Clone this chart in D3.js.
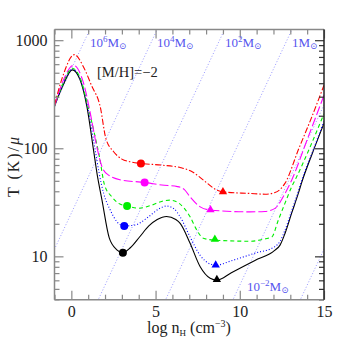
<!DOCTYPE html>
<html>
<head>
<meta charset="utf-8">
<script src="https://cdn.jsdelivr.net/npm/d3@7"></script>
<style>
body { margin: 0; background: #fff; }
svg text { font-family: "Liberation Serif", "DejaVu Serif", serif; }
</style>
</head>
<body>
<svg id="chart" width="354" height="354"></svg>
<script>
// log n_H (cm^-3) and T/mu (K)
var nBlack = [-1, -0.5, 0.05, 0.5, 0.93, 1.32, 1.52, 1.82, 2.25, 2.7, 3.06, 3.5, 4.05, 4.6, 5.1, 5.65, 6.2, 6.46, 7.05, 7.65, 8.24, 8.64, 9.5, 10.9, 12.09, 12.39, 12.68, 13.08, 13.47, 13.67, 14.3, 15];
var tBlack = [245, 380, 531, 437, 240, 95.5, 58.9, 33.1, 14.8, 11.5, 10.8, 12.0, 15.1, 19.1, 21.9, 23.4, 21.9, 20.2, 13.2, 8.0, 6.27, 6.03, 7.06, 9.16, 11.4, 12.7, 16.2, 25.1, 38.0, 47.9, 89.1, 170];

var nBlue = [-1, -0.5, 0.05, 0.5, 1.0, 1.42, 1.65, 1.92, 2.31, 2.71, 3.14, 3.79, 4.58, 5.2, 5.65, 6.1, 6.46, 7.05, 7.65, 8.24, 8.6, 9.5, 10.9, 12.09, 12.39, 12.68, 13.08, 13.47, 13.67, 14.3, 15];
var tBlue = [245, 389, 541, 447, 229, 95.5, 58.9, 38.2, 26.8, 20.9, 19.1, 19.5, 23.2, 27.5, 29.2, 27.5, 23.2, 15.1, 10.2, 8.5, 8.3, 9.1, 10.7, 12.3, 13.8, 17.4, 26.3, 39.8, 50.1, 91.2, 178];

var nGreen = [-1, -0.5, 0.05, 0.5, 1.0, 1.35, 1.67, 1.97, 2.41, 2.81, 3.31, 4.0, 4.78, 5.4, 5.87, 6.4, 7.05, 7.45, 7.84, 8.54, 10.6, 11.5, 11.9, 12.29, 12.68, 13.08, 13.28, 14.2, 15];
var tGreen = [245, 398, 550, 457, 240, 141, 83.2, 45.7, 35.5, 30.9, 29.2, 27.9, 29.8, 32.4, 33.1, 30.9, 23.2, 17.5, 14.7, 14.1, 13.8, 14.5, 15.1, 21.7, 30.9, 44.0, 50.7, 105, 209];

var nMagenta = [-1, -0.5, 0.12, 0.73, 1.13, 1.52, 1.82, 2.21, 3.0, 4.35, 5.37, 6.3, 6.7, 7.05, 7.65, 8.26, 10.6, 11.5, 12.09, 12.68, 13.08, 14.0, 15];
var tMagenta = [245, 417, 586, 398, 209, 102, 67.3, 56.4, 50.7, 48.3, 45.7, 44.2, 41.7, 35.5, 28.7, 26.8, 25.8, 26.0, 27.8, 38.0, 50.7, 120, 309];

var nRed = [-1, -0.5, 0.18, 0.73, 1.2, 1.72, 2.05, 2.5, 3.0, 3.5, 4.13, 5.37, 6.5, 7.2, 7.84, 8.64, 9.0, 10.6, 11.5, 12.09, 12.68, 13.5, 14.2, 15];
var tRed = [251, 468, 736, 562, 380, 240, 123, 93.3, 79.4, 75.0, 72.4, 69.8, 66.1, 60.3, 50.7, 41.0, 39.5, 38.2, 37.6, 38.9, 47.3, 98.9, 182, 383];

// marked points: circles and triangles (black, blue, green, magenta, red)
var dotN = [3.06, 3.14, 3.31, 4.35, 4.13];
var dotT = [10.8, 19.1, 29.2, 48.3, 72.4];
var triN = [8.64, 8.57, 8.52, 8.26, 9.0];
var triT = [6.1, 8.3, 14.4, 27, 39.5];

// constant Jeans mass lines: log n_H where each one crosses T = 1000 K, slope 1/3
var jeansMass = ["1e6", "1e4", "1e2", "1", "1e-2", "1e-4"];
var jeansN1000 = [0.8, 4.8, 8.8, 12.8, 16.8, 20.8];

var xTicks = [0, 5, 10, 15];
var yTicks = [10, 100, 1000];

var colors = ["#000000", "#0000ff", "#00ee00", "#ff00ff", "#ff0000"];
var dashes = [null, "1,2", "4,3", "9,3", "6,2,1.5,2"];
var series = [[nBlack, tBlack], [nBlue, tBlue], [nGreen, tGreen], [nMagenta, tMagenta], [nRed, tRed]];

var svg = d3.select("#chart");
var pL = 54.5, pR = 324, pT = 29.5, pB = 299.7;

var x = d3.scaleLinear().domain([-1, 15]).range([pL, pR]);
var y = d3.scaleLog().domain([3.97, 1256]).range([pB, pT]);

svg.append("clipPath").attr("id", "clip")
    .append("rect").attr("x", pL).attr("y", pT)
    .attr("width", pR - pL).attr("height", pB - pT);

var plot = svg.append("g").attr("clip-path", "url(#clip)");

// Jeans mass lines
jeansN1000.forEach(function (n0) {
    var pts = [[n0 - 12, 1000 * Math.pow(10, -4)], [n0 + 3, 1000 * 10]];
    plot.append("path")
        .attr("d", d3.line().x(function (d) { return x(d[0]); }).y(function (d) { return y(d[1]); })(pts))
        .attr("fill", "none")
        .attr("stroke", "#8c8cff")
        .attr("stroke-width", 0.9)
        .attr("stroke-dasharray", "1,2");
});

var line = d3.line()
    .x(function (d) { return x(d[0]); })
    .y(function (d) { return y(d[1]); })
    .curve(d3.curveMonotoneX);

series.forEach(function (s, i) {
    var pts = s[0].map(function (n, j) { return [n, s[1][j]]; });
    plot.append("path")
        .attr("d", line(pts))
        .attr("fill", "none")
        .attr("stroke", colors[i])
        .attr("stroke-width", 1.1)
        .attr("stroke-dasharray", dashes[i]);
});

dotN.forEach(function (n, i) {
    plot.append("circle")
        .attr("cx", x(n)).attr("cy", y(dotT[i])).attr("r", 4)
        .attr("fill", colors[i]);
});

var tri = d3.symbol().type(d3.symbolTriangle).size(30);
triN.forEach(function (n, i) {
    plot.append("path")
        .attr("d", tri())
        .attr("transform", "translate(" + x(n) + "," + y(triT[i]) + ")")
        .attr("fill", colors[i]);
});

// axes, ticks pointing inward on all four sides
var gray = "#888";
var xMinor = d3.range(-1, 16).filter(function (v) { return xTicks.indexOf(v) < 0; });
var yMinor = [];
[1, 10, 100, 1000].forEach(function (d) {
    for (var k = 1; k < 10; k++) {
        var v = d * k;
        if (v > 3.97 && v < 1256 && yTicks.indexOf(v) < 0) yMinor.push(v);
    }
});

function addAxis(axis, tr, color) {
    var g = svg.append("g").attr("transform", tr).call(axis);
    g.select(".domain").remove();
    g.selectAll("line").attr("stroke", color).attr("stroke-width", 1.2);
    g.selectAll("text").attr("fill", "#222").style("font-size", "16px");
    return g;
}

addAxis(d3.axisBottom(x).tickValues(xMinor).tickSize(-5).tickFormat(""), "translate(0," + pB + ")", gray);
addAxis(d3.axisBottom(x).tickValues(xTicks).tickSize(-9).tickPadding(6).tickFormat(d3.format("d")), "translate(0," + pB + ")", gray);
addAxis(d3.axisTop(x).tickValues(xMinor).tickSize(-5).tickFormat(""), "translate(0," + pT + ")", gray);
addAxis(d3.axisTop(x).tickValues(xTicks).tickSize(-9).tickFormat(""), "translate(0," + pT + ")", gray);
addAxis(d3.axisLeft(y).tickValues(yMinor).tickSize(-5).tickFormat(""), "translate(" + pL + ",0)", gray);
addAxis(d3.axisLeft(y).tickValues(yTicks).tickSize(-9).tickPadding(7).tickFormat(d3.format("d")), "translate(" + pL + ",0)", gray);
addAxis(d3.axisRight(y).tickValues(yMinor).tickSize(-5).tickFormat(""), "translate(" + pR + ",0)", "#333");
addAxis(d3.axisRight(y).tickValues(yTicks).tickSize(-9).tickFormat(""), "translate(" + pR + ",0)", "#333");

svg.append("line").attr("x1", pL).attr("x2", pL).attr("y1", pT).attr("y2", pB)
    .attr("stroke", gray).attr("stroke-width", 1.5);
svg.append("line").attr("x1", pL).attr("x2", pR).attr("y1", pB).attr("y2", pB)
    .attr("stroke", gray).attr("stroke-width", 1.5);
svg.append("line").attr("x1", pL).attr("x2", pR).attr("y1", pT).attr("y2", pT)
    .attr("stroke", gray).attr("stroke-width", 1.5);
svg.append("line").attr("x1", pR).attr("x2", pR).attr("y1", pT).attr("y2", pB)
    .attr("stroke", "#222").attr("stroke-width", 1.5);

// axis titles
var xt = svg.append("text").attr("x", 189).attr("y", 333)
    .attr("text-anchor", "middle").attr("fill", "#222").style("font-size", "16px");
xt.append("tspan").text("log  n");
xt.append("tspan").attr("dy", 3).style("font-size", "9px").text("H");
xt.append("tspan").attr("dy", -3).text("  (cm");
xt.append("tspan").attr("dy", -6).style("font-size", "10px").text("−3");
xt.append("tspan").attr("dy", 6).text(")");

var yt = svg.append("text").attr("transform", "translate(19,166) rotate(-90)")
    .attr("text-anchor", "middle").attr("fill", "#222")
    .style("font-size", "16px").style("letter-spacing", "2px");
yt.append("tspan").text("T (K)/");
yt.append("tspan").style("font-style", "italic").text("μ");

svg.append("text").attr("x", 97).attr("y", 77).attr("fill", "#222")
    .style("font-size", "14.5px").text("[M/H]=−2");

// Jeans mass labels
var jl = [
    { sup: "6", x: 90, y: 47 },
    { sup: "4", x: 157, y: 47 },
    { sup: "2", x: 225, y: 47 },
    { sup: null, x: 292, y: 47 },
    { sup: "−2", x: 247, y: 291 }
];
jl.forEach(function (d) {
    var t = svg.append("text").attr("x", d.x).attr("y", d.y)
        .attr("fill", "#5555ee").style("font-size", "13px");
    if (d.sup) {
        t.append("tspan").text("10");
        t.append("tspan").attr("dy", -5).style("font-size", "9px").text(d.sup);
        t.append("tspan").attr("dy", 5).text("M");
    } else {
        t.append("tspan").text("1M");
    }
    t.append("tspan").attr("dy", 2).style("font-size", "9px").text("⊙");
});
</script>
</body>
</html>
